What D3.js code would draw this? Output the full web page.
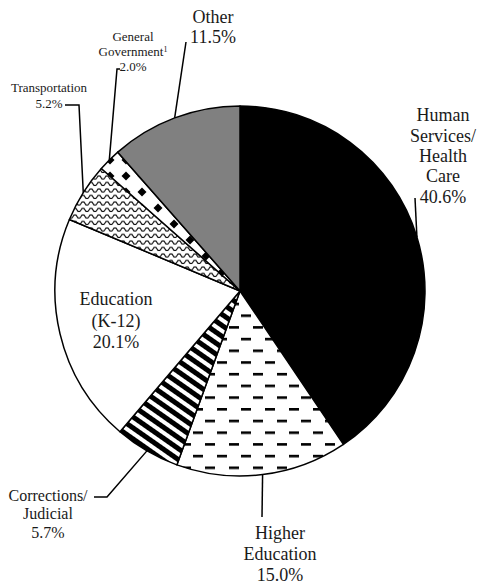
<!DOCTYPE html>
<html>
<head>
<meta charset="utf-8">
<script src="https://cdn.jsdelivr.net/npm/d3@7"></script>
<style>
    body { margin: 0; background: #fff; }
    svg { display: block; }
</style>
</head>
<body>
<svg id="chart" width="479" height="586"></svg>
<script>
// data, clockwise from 12 o'clock
const categories = [
    'Human Services/Health Care',
    'Higher Education',
    'Corrections/Judicial',
    'Education (K-12)',
    'Transportation',
    'General Government',
    'Other'
];
const shares = [40.6, 15.0, 5.7, 20.1, 5.2, 2.0, 11.5];
const labelLines = [
    ['Human', 'Services/', 'Health', 'Care'],
    ['Higher', 'Education'],
    ['Corrections/', 'Judicial'],
    ['Education', '(K-12)'],
    ['Transportation'],
    ['General', 'Government'],
    ['Other']
];
const footnotes = ['', '', '', '', '', '1', ''];

// layout
const cx = 240;
const cy = 291;
const radius = 185;
const fontFamily = "'Liberation Serif', 'DejaVu Serif', serif";
const fills = ['#000', 'url(#dashes)', 'url(#stripes)', '#fff', 'url(#wave)', 'url(#diamonds)', '#808080'];
const labelPos = [
    { x: 443, y: 115, lh: 20.3, size: 18, leader: [[415, 198]] },
    { x: 280, y: 533, lh: 21, size: 18, leader: [[262, 517]] },
    { x: 48, y: 495, lh: 18.5, size: 16, leader: [[107, 497], [94, 497]] },
    { x: 116, y: 299, lh: 21.5, size: 18, leader: null },
    { x: 49, y: 87, lh: 16, size: 13, leader: [[79, 105], [65, 105]] },
    { x: 133, y: 36, lh: 15, size: 13, leader: [[117, 69], [120, 69]] },
    { x: 213, y: 17, lh: 20, size: 18, leader: [[186, 42]] }
];

const svg = d3.select('#chart');
const defs = svg.append('defs');

const addPattern = (id, w, h, transform) => {
    const p = defs
        .append('pattern')
        .attr('id', id)
        .attr('patternUnits', 'userSpaceOnUse')
        .attr('width', w)
        .attr('height', h)
        .attr('patternTransform', transform || null);
    p.append('rect').attr('width', w).attr('height', h).attr('fill', '#fff');
    return p;
};

const dashes = addPattern('dashes', 24, 23.4);
dashes.append('rect').attr('x', 1).attr('y', 0).attr('width', 10).attr('height', 2.6);
dashes.append('rect').attr('x', 13).attr('y', 11.7).attr('width', 10).attr('height', 2.6);

addPattern('stripes', 10, 9, 'rotate(35)')
    .append('rect')
    .attr('width', 10)
    .attr('height', 5);

addPattern('wave', 8, 6.5)
    .append('path')
    .attr('d', 'M0,5 L2,2 L4,2 L6,5 L8,5')
    .attr('fill', 'none')
    .attr('stroke', '#000')
    .attr('stroke-width', 1);

addPattern('diamonds', 16, 16, 'translate(6,5)')
    .append('path')
    .attr('d', 'M8,3.5 L12.5,8 L8,12.5 L3.5,8Z');

const pie = d3.pie().sort(null).value(d => d);
const arc = d3.arc().innerRadius(0).outerRadius(radius);
const arcs = pie(shares);

const g = svg.append('g').attr('transform', `translate(${cx},${cy})`);

g.selectAll('path.slice')
    .data(arcs)
    .join('path')
    .attr('class', 'slice')
    .attr('d', arc)
    .attr('fill', (d, i) => fills[i])
    .attr('stroke', '#000')
    .attr('stroke-width', 1.5)
    .attr('stroke-linejoin', 'round');

const edgePoint = d => {
    const a = (d.startAngle + d.endAngle) / 2;
    return [cx + Math.sin(a) * radius, cy - Math.cos(a) * radius];
};

const line = d3.line();
const fmt = d3.format('.1f');

arcs.forEach((d, i) => {
    const pos = labelPos[i];

    if (pos.leader) {
        svg.append('path')
            .attr('d', line([edgePoint(d), ...pos.leader]))
            .attr('fill', 'none')
            .attr('stroke', '#000')
            .attr('stroke-width', 1.5);
    }

    const lines = [...labelLines[i], fmt(shares[i]) + '%'];
    const text = svg.append('text')
        .attr('text-anchor', 'middle')
        .attr('font-family', fontFamily)
        .attr('font-size', pos.size)
        .attr('fill', '#1a1a1a');

    lines.forEach((t, j) => {
        text.append('tspan')
            .attr('x', pos.x)
            .attr('y', pos.y + j * pos.lh)
            .attr('dy', '0.35em')
            .text(t);
        if (footnotes[i] && j === labelLines[i].length - 1) {
            text.append('tspan')
                .attr('dy', '-0.45em')
                .attr('font-size', 8)
                .text(footnotes[i]);
        }
    });
});
</script>
</body>
</html>
